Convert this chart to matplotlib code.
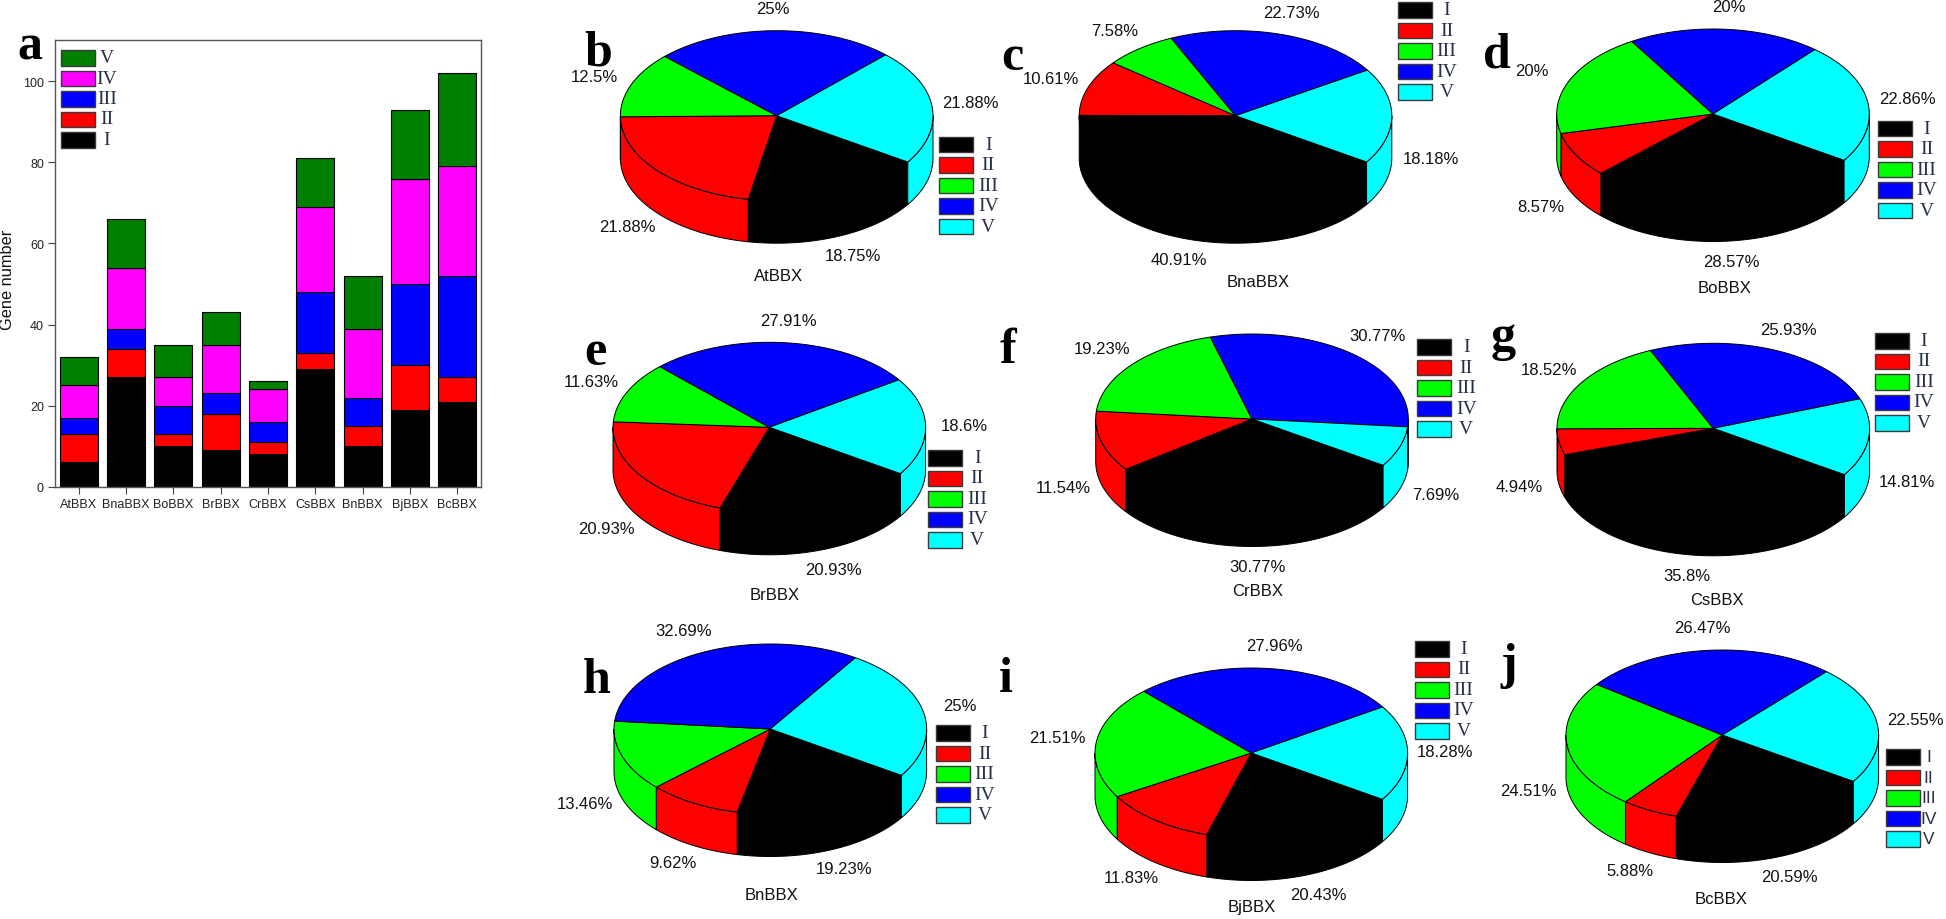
import numpy as np
import matplotlib
matplotlib.use('Agg')
import matplotlib.pyplot as plt
from matplotlib.patches import Polygon, Rectangle

# gene counts per class, panel a
species = ['AtBBX', 'BnaBBX', 'BoBBX', 'BrBBX', 'CrBBX', 'CsBBX', 'BnBBX', 'BjBBX', 'BcBBX']
classes = ['I', 'II', 'III', 'IV', 'V']
class_1 = [6, 27, 10, 9, 8, 29, 10, 19, 21]
class_2 = [7, 7, 3, 9, 3, 4, 5, 11, 6]
class_3 = [4, 5, 7, 5, 5, 15, 7, 20, 25]
class_4 = [8, 15, 7, 12, 8, 21, 17, 26, 27]
class_5 = [7, 12, 8, 8, 2, 12, 13, 17, 23]
y_ticks = [0, 20, 40, 60, 80, 100]

# percentages per species, panels b-j
at_pct = [18.75, 21.88, 12.5, 25, 21.88]
bna_pct = [40.91, 10.61, 7.58, 22.73, 18.18]
bo_pct = [28.57, 8.57, 20, 20, 22.86]
br_pct = [20.93, 20.93, 11.63, 27.91, 18.6]
cr_pct = [30.77, 11.54, 19.23, 30.77, 7.69]
cs_pct = [35.8, 4.94, 18.52, 25.93, 14.81]
bn_pct = [19.23, 9.62, 13.46, 32.69, 25]
bj_pct = [20.43, 11.83, 21.51, 27.96, 18.28]
bc_pct = [20.59, 5.88, 24.51, 26.47, 22.55]

bar_colors = ['#000000', '#ff0000', '#0000ff', '#ff00ff', '#008000']
pie_colors = ['#000000', '#ff0000', '#00ff00', '#0000ff', '#00ffff']

# layout in pixels of the 1946x920 picture
pies = [
    ('b', (598, 65), at_pct, 'AtBBX', (776.7, 116.7), (779, 277), (939.3, 137.7),
     [(853, 257), (627, 228), (594, 77), (773, 10), (970, 104)]),
    ('c', (1012, 70), bna_pct, 'BnaBBX', (1235.5, 116.7), (1258, 283), (1397.7, 3.3),
     [(1179, 261), (1051, 80), (1115, 32), (1291, 14), (1431, 160)]),
    ('d', (1497, 68), bo_pct, 'BoBBX', (1713, 115), (1725, 289), (1877.7, 121.7),
     [(1731, 263), (1541, 208), (1532, 72), (1729, 8), (1907, 99)]),
    ('e', (595, 365), br_pct, 'BrBBX', (769.3, 428.3), (775, 596), (928.3, 451),
     [(833, 571), (606, 530), (591, 383), (788, 322), (964, 427)]),
    ('f', (1008, 363), cr_pct, 'CrBBX', (1252, 420), (1258, 592), (1417.3, 340.3),
     [(1257, 568), (1063, 489), (1102, 350), (1377, 337), (1436, 496)]),
    ('g', (1503, 350), cs_pct, 'CsBBX', (1713.3, 429.3), (1717, 601), (1875, 334),
     [(1687, 577), (1519, 488), (1549, 371), (1788, 331), (1907, 483)]),
    ('h', (597, 693), bn_pct, 'BnBBX', (770.3, 730), (772, 896), (935.7, 726.3),
     [(844, 870), (673, 864), (585, 805), (684, 632), (960, 707)]),
    ('i', (1006, 692), bj_pct, 'BjBBX', (1251.3, 754), (1252, 908), (1414.7, 642),
     [(1318, 896), (1131, 879), (1057, 739), (1274, 647), (1445, 753)]),
    ('j', (1509, 678), bc_pct, 'BcBBX', (1722.3, 736), (1721, 900), (1885.7, 750.3),
     [(1789, 878), (1630, 872), (1528, 792), (1702, 629), (1915, 721)]),
]
RX = 156.3
RY = 85
DEPTH = 42.5
START = -33

SANS = 'Liberation Sans'
SERIF = 'Liberation Serif'
LEG_COLOR = '#26304a'

fig = plt.figure(figsize=(19.46, 9.2), dpi=100, facecolor='white')
W, H = 1946, 920

# panel a
ax = fig.add_axes([55 / W, 1 - 487.7 / H, 426 / W, 446.7 / H])
x = np.arange(1, len(species) + 1)
bottom = np.zeros(len(species))
for vals, col in zip([class_1, class_2, class_3, class_4, class_5], bar_colors):
    ax.bar(x, vals, 0.8, bottom=bottom, color=col, edgecolor='black', linewidth=0.8)
    bottom += np.array(vals)
ax.set_xlim(0.5, 9.5)
ax.set_ylim(0, 110.2)
ax.set_xticks(x)
ax.set_xticklabels(species, fontsize=9, family=SANS, color='#222222')
ax.set_yticks(y_ticks)
ax.set_yticklabels([str(t) for t in y_ticks], fontsize=9, family=SANS, color='#222222')
ax.tick_params(length=5, width=0.8, color='#444444', pad=3)
for s in ax.spines.values():
    s.set_color('#555555')
    s.set_linewidth(1)

# everything else is placed in picture pixels
over = fig.add_axes([0, 0, 1, 1], zorder=5)
over.set_xlim(0, W)
over.set_ylim(H, 0)
over.axis('off')
over.patch.set_alpha(0)

over.text(8, 280, 'Gene number', rotation=90, fontsize=11.8, family=SANS,
          ha='center', va='center', color='#111111')


def draw_legend(left, top, names, colors, label_x, label_font=SERIF, size=14):
    for i, (name, col) in enumerate(zip(names, colors)):
        y = top + i * 20.5
        over.add_patch(Rectangle((left, y), 34, 15.5, facecolor=col,
                                 edgecolor='#3a3a3a', linewidth=1.0))
        over.text(left + label_x, y + 7.5, name, family=label_font, fontsize=size,
                  ha='center', va='center', color=LEG_COLOR)


def rim(cx, cy, a1, a2, drop=0):
    t = np.radians(np.linspace(a1, a2, 80))
    return np.column_stack([cx + RX * np.cos(t), cy - RY * np.sin(t) + drop])


def draw_pie(cx, cy, shares, colors):
    # slices run clockwise from START, class I first
    edges = START - np.cumsum([0] + list(shares)) * 360.0 / sum(shares)
    # side wall first, only the part facing the viewer
    for i, col in enumerate(colors):
        hi, lo = edges[i], edges[i + 1]
        for win_lo, win_hi in [(-180, 0), (-540, -360)]:
            a2 = max(lo, win_lo)
            a1 = min(hi, win_hi)
            if a1 <= a2:
                continue
            pts = np.vstack([rim(cx, cy, a1, a2), rim(cx, cy, a2, a1, DEPTH)])
            over.add_patch(Polygon(pts, closed=True, facecolor=col,
                                   edgecolor='black', linewidth=0.7))
    for i, col in enumerate(colors):
        pts = np.vstack([[cx, cy], rim(cx, cy, edges[i], edges[i + 1])])
        over.add_patch(Polygon(pts, closed=True, facecolor=col,
                               edgecolor='black', linewidth=0.7))


for letter, letter_pos, pct, name, center, name_pos, leg_pos, label_pos in pies:
    draw_pie(center[0], center[1], pct, pie_colors)
    for val, pos in zip(pct, label_pos):
        over.text(pos[0], pos[1], '%g%%' % val, family=SANS, fontsize=12,
                  ha='center', va='center', color='#111111')
    over.text(name_pos[0], name_pos[1], name, family=SANS, fontsize=12,
              ha='center', va='center', color='#111111')
    if letter == 'j':
        draw_legend(leg_pos[0], leg_pos[1], classes, pie_colors, 43, SANS, 12.5)
    else:
        draw_legend(leg_pos[0], leg_pos[1], classes, pie_colors, 49)
    over.text(letter_pos[0], letter_pos[1], letter, family=SERIF, fontweight='bold',
              fontsize=36, ha='center', va='baseline', color='black')

# panel a legend, V on top
draw_legend(61, 51, classes[::-1], bar_colors[::-1], 46)
over.text(30, 60, 'a', family=SERIF, fontweight='bold', fontsize=36,
          ha='center', va='baseline', color='black')

fig.savefig('out.png', dpi=100)
